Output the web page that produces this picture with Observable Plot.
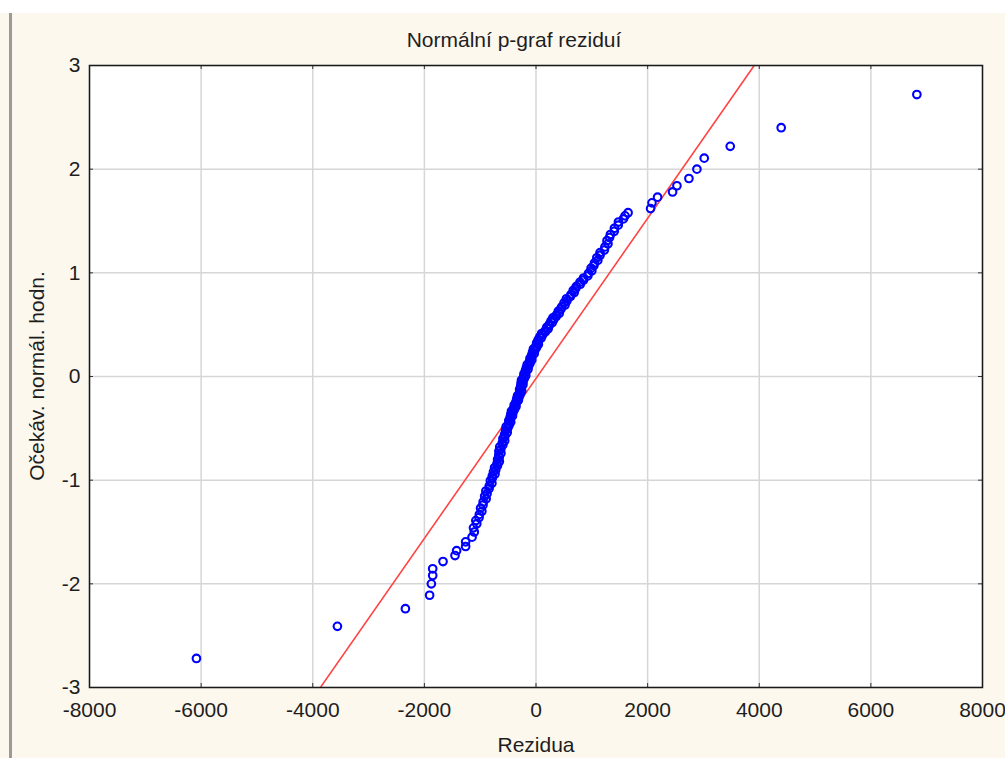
<!DOCTYPE html>
<html>
<head>
<meta charset="utf-8">
<script src="https://cdn.jsdelivr.net/npm/d3@7"></script>
<script src="https://cdn.jsdelivr.net/npm/@observablehq/plot@0.6"></script>
<style>
  html, body { margin: 0; padding: 0; background: #ffffff; }
  #page { position: relative; width: 1005px; height: 758px; overflow: hidden; font-family: "Liberation Sans", Arial, sans-serif; color: #1e1e1e; }
  #cream { position: absolute; left: 0; top: 13px; width: 1005px; height: 745px; background: #fdf8ee; }
  #edge { position: absolute; left: 9px; top: 13px; width: 3px; height: 745px; background: #9a9a9a; }
  #chart { position: absolute; left: 0; top: 0; }
  .lbl { position: absolute; font-size: 21px; line-height: 21px; white-space: nowrap; }
  #title { left: 514px; top: 29px; transform: translateX(-50%); }
  #xlabel { left: 536px; top: 734px; transform: translateX(-50%); }
  #ylabel { left: 36px; top: 376px; transform: translate(-50%, -50%) rotate(-90deg); }
</style>
</head>
<body>
<div id="page">
  <div id="cream"></div>
  <div id="edge"></div>
  <div id="chart"></div>
  <div class="lbl" id="title">Normální p-graf reziduí</div>
  <div class="lbl" id="xlabel">Rezidua</div>
  <div class="lbl" id="ylabel">Očekáv. normál. hodn.</div>
</div>
<script>
// Residuals (x) and expected normal values (y)
const residuals = [
  -6084, -3558, -2340, -1906, -1875, -1851, -1851, -1666, -1451, -1422, -1261, -1261, -1146,
  -1106, -1120, -1061, -1078, -1020, -1015, -970, -993, -949, -947,
  -893, -920, -877, -898, -840, -837, -790, -818, -782, -782,
  -734, -762, -721, -743, -690, -699, -657, -688, -659, -667,
  -628, -665, -630, -650, -594, -603, -561, -593, -559, -562,
  -516, -546, -507, -534, -482, -493, -453, -488, -459, -464,
  -421, -452, -414, -440, -388, -399, -358, -390, -357, -360,
  -316, -345, -304, -331, -280, -293, -257, -294, -267, -275,
  -234, -268, -232, -260, -210, -222, -183, -216, -185, -189,
  -143, -173, -133, -158, -105, -115, -75, -108, -75, -78,
  -32, -62, -22, -46, 9, 1, 43, 12, 43, 40,
  92, 70, 118, 102, 167, 168, 218, 194, 235, 240,
  292, 270, 318, 302, 365, 367, 417, 400, 448, 460,
  520, 502, 555, 545, 615, 625, 685, 667, 713, 723,
  794, 788, 853, 852, 928, 940, 1000, 987, 1038, 1048,
  1107, 1090, 1148, 1147, 1225, 1235, 1290, 1272, 1318, 1333,
  1402, 1405, 1473, 1477, 1565, 1595, 1650,
  2053, 2078, 2178, 2447, 2525, 2740, 2883, 3014, 3480, 4393, 6824
];
const expected = [
  -2.72, -2.41, -2.24, -2.11, -2.00, -1.92, -1.855, -1.785, -1.727, -1.68, -1.64, -1.595, -1.55,
  -1.50, -1.46, -1.42, -1.39, -1.36, -1.33, -1.30, -1.27, -1.24, -1.21,
  -1.18, -1.155, -1.13, -1.105, -1.08, -1.055, -1.03, -1.005, -0.98, -0.96,
  -0.94, -0.92, -0.90, -0.88, -0.86, -0.84, -0.82, -0.80, -0.78, -0.76,
  -0.74, -0.72, -0.70, -0.68, -0.66, -0.64, -0.62, -0.60, -0.58, -0.56,
  -0.54, -0.52, -0.50, -0.485, -0.47, -0.455, -0.44, -0.425, -0.41, -0.395,
  -0.38, -0.365, -0.35, -0.335, -0.32, -0.305, -0.29, -0.275, -0.26, -0.245,
  -0.23, -0.215, -0.20, -0.185, -0.17, -0.155, -0.14, -0.125, -0.11, -0.095,
  -0.08, -0.065, -0.05, -0.035, -0.02, -0.005, 0.01, 0.025, 0.04, 0.055,
  0.07, 0.085, 0.10, 0.115, 0.13, 0.145, 0.16, 0.175, 0.19, 0.205,
  0.22, 0.235, 0.25, 0.265, 0.28, 0.295, 0.31, 0.325, 0.34, 0.355,
  0.37, 0.385, 0.40, 0.415, 0.43, 0.445, 0.46, 0.475, 0.49, 0.505,
  0.52, 0.535, 0.55, 0.565, 0.58, 0.595, 0.61, 0.63, 0.65, 0.67,
  0.69, 0.71, 0.73, 0.75, 0.77, 0.79, 0.81, 0.83, 0.85, 0.87,
  0.89, 0.91, 0.93, 0.95, 0.97, 0.995, 1.02, 1.045, 1.07, 1.095,
  1.12, 1.145, 1.17, 1.195, 1.22, 1.25, 1.28, 1.31, 1.34, 1.37,
  1.40, 1.43, 1.46, 1.49, 1.52, 1.55, 1.58,
  1.62, 1.675, 1.73, 1.78, 1.84, 1.91, 2.00, 2.106, 2.22, 2.40, 2.72
];
// Reference (fitted normal) line endpoints
const fitX = [-3863, 3910];
const fitY = [-3, 3];
// Tick values
const xTicks = [-8000, -6000, -4000, -2000, 0, 2000, 4000, 6000, 8000];
const yTicks = [-3, -2, -1, 0, 1, 2, 3];

const W = 1005, H = 758;
const mL = 89, mR = 23, mT = 65, mB = 71;
const innerW = W - mL - mR, innerH = H - mT - mB;
const tickLen = 4;

const chart = Plot.plot({
  width: W,
  height: H,
  marginLeft: mL,
  marginRight: mR,
  marginTop: mT,
  marginBottom: mB,
  style: { fontFamily: "'Liberation Sans', Arial, sans-serif", fontSize: "21px", color: "#1e1e1e", background: "transparent", overflow: "visible" },
  x: { domain: [-8000, 8000] },
  y: { domain: [-3, 3] },
  marks: [
    Plot.frame({ fill: "white", stroke: "none" }),
    Plot.gridX(xTicks, { stroke: "#d6d6d6", strokeOpacity: 1, strokeWidth: 1.5 }),
    Plot.gridY(yTicks, { stroke: "#d6d6d6", strokeOpacity: 1, strokeWidth: 1.5 }),
    Plot.tickX(xTicks, { x: d => d, stroke: "#333", insetTop: innerH - tickLen }),
    Plot.tickX(xTicks, { x: d => d, stroke: "#333", insetBottom: innerH - tickLen }),
    Plot.tickY(yTicks, { y: d => d, stroke: "#333", insetRight: innerW - tickLen }),
    Plot.tickY(yTicks, { y: d => d, stroke: "#333", insetLeft: innerW - tickLen }),
    Plot.axisX(xTicks, { anchor: "bottom", tickSize: 0, tickPadding: 15, label: null, tickFormat: d => String(d).replace("−", "-") }),
    Plot.axisY(yTicks, { anchor: "left", tickSize: 0, tickPadding: 9, label: null, tickFormat: d => String(d) }),
    Plot.line(fitX.map((x, i) => ({ x, y: fitY[i] })), { x: "x", y: "y", stroke: "#ff4444", strokeWidth: 1.6, clip: true }),
    Plot.dot(residuals, { x: residuals, y: expected, r: 3.8, stroke: "#0000ff", strokeWidth: 2.1, fill: "none" }),
    Plot.frame({ stroke: "#1a1a1a", strokeWidth: 1.5 })
  ]
});
document.getElementById("chart").appendChild(chart);
</script>
</body>
</html>
